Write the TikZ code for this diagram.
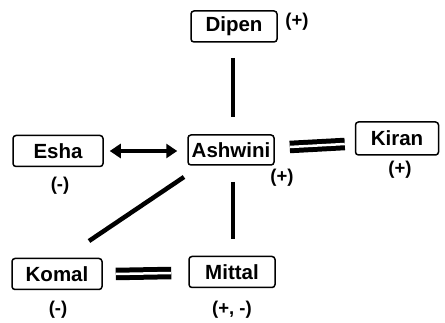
\documentclass[tikz,border=0pt]{standalone}
\usepackage{fontspec}
\setmainfont{Liberation Sans}
\usetikzlibrary{arrows.meta}
\begin{document}
\begin{tikzpicture}[x=1pt,y=-1pt,
  person/.style={draw, line width=1.5pt, rounded corners=3pt, minimum width=86pt, minimum height=31pt, inner sep=0pt, font=\fontsize{20.5}{24}\selectfont\bfseries},
  sign/.style={font=\fontsize{18.5}{22}\selectfont\bfseries, inner sep=0pt},
  link/.style={line width=4.5pt},
  eq/.style={line width=5pt, double distance=2.5pt},
  both/.style={line width=4.5pt, {Triangle[length=11pt,width=14pt]}-{Triangle[length=11pt,width=14pt]}}]
\useasboundingbox (0,0) rectangle (445,323);
\node[person] (dipen) at (234,26.5) {Dipen};
\node[person, minimum width=90pt] (esha) at (58,151) {Esha};
\node[person, minimum height=30pt] (ashwini) at (231,150) {Ashwini};
\node[person, minimum width=83pt, minimum height=33pt] (kiran) at (397,138.5) {Kiran};
\node[person, minimum width=90pt] (komal) at (57,274) {Komal};
\node[person] (mittal) at (232,272) {Mittal};

\node[sign] (sd) at (297,22) {(+)};
\node[sign] (se) at (60,186) {(-)};
\node[sign] (sa) at (282,178) {(+)};
\node[sign] (sk) at (400,170) {(+)};
\node[sign] (sko) at (58,310) {(-)};
\node[sign] (sm) at (232,310) {(+, -)};

\coordinate (d1) at (233,58);
\coordinate (d2) at (233,117);
\draw[link] (d1) -- (d2);
\path (esha.east) ++(6,0) coordinate (e1) (ashwini.west) ++(-10,1) coordinate (a0);
\draw[both] (e1) -- (a0);
\path (ashwini.east) ++(15,-3) coordinate (a2) (kiran.west) ++(-10,5.5) coordinate (k2);
\draw[eq] (a2) -- (k2);
\coordinate (a3) at (184,177);
\coordinate (k3) at (89,241);
\draw[link] (a3) -- (k3);
\coordinate (a4) at (233,182);
\coordinate (m4) at (233,239);
\draw[link] (a4) -- (m4);
\path (komal.east) ++(13,0) coordinate (ko5) (mittal.west) ++(-17,1) coordinate (m5);
\draw[eq] (ko5) -- (m5);
\end{tikzpicture}
\end{document}
